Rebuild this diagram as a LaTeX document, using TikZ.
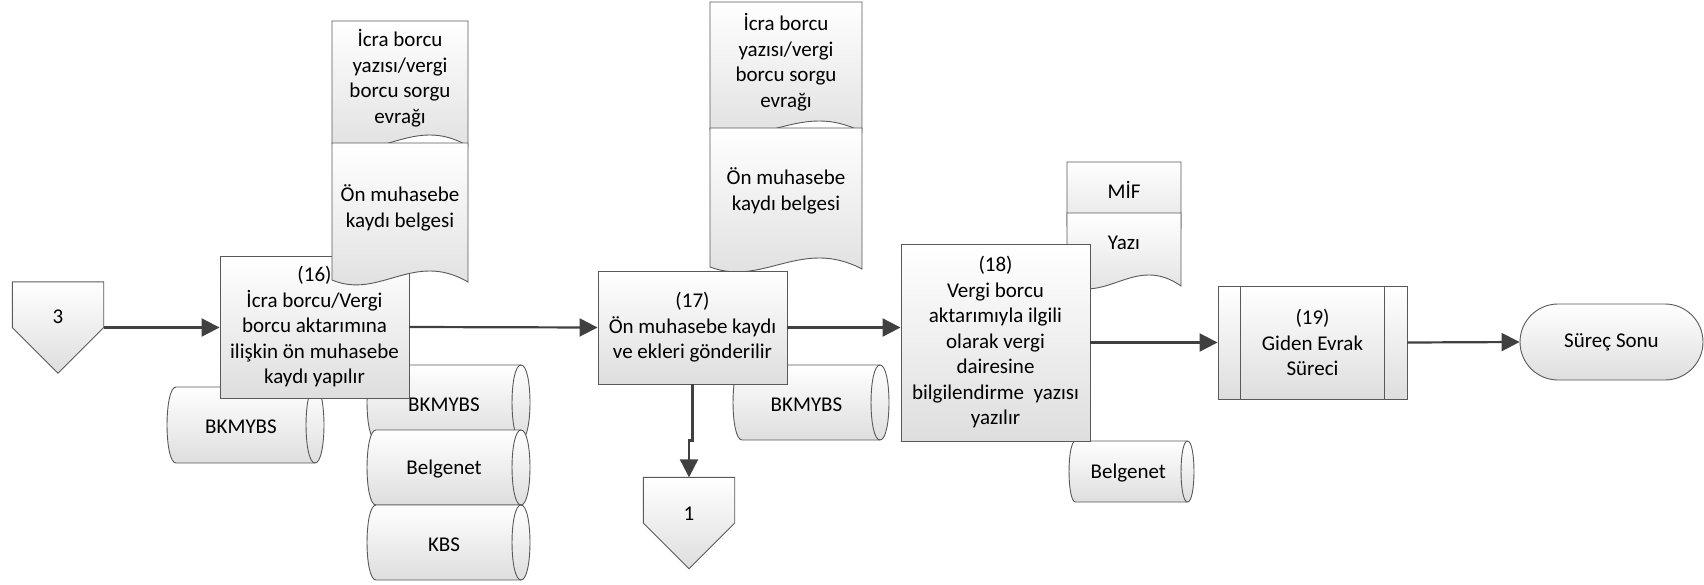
\documentclass[tikz,border=0pt]{standalone}
\usepackage{fontspec}
\setmainfont{Carlito}
\usepackage{tikz}
\usetikzlibrary{positioning,calc,arrows.meta}

% document shape: left, top, right, bottom
\newcommand{\docshape}[4]{%
  \draw[shapeline] (#1,#2) -- (#3,#2) -- (#3,#4+2)
    .. controls ({#1+0.6*(#3-#1)},#4-30) and ({#1+0.35*(#3-#1)},#4+20) .. (#1,#4) -- cycle;}

% horizontal cylinder: name, left, top, right, bottom, end radius, text
\newcommand{\cylbox}[7]{%
  \draw[shapeline] (#2+#6,#3) -- (#4-#6,#3)
    .. controls (#4+0.33*#6,#3) and (#4+0.33*#6,#5) .. (#4-#6,#5)
    -- (#2+#6,#5)
    .. controls (#2-0.33*#6,#5) and (#2-0.33*#6,#3) .. (#2+#6,#3) -- cycle;
  \draw[edgeline] (#4-#6,#3) .. controls (#4-2.33*#6,#3) and (#4-2.33*#6,#5) .. (#4-#6,#5);
  \node[txt] (#1) at ({(#2+#4-#6)/2},{(#3+#5)/2+2}) {#7};}

\begin{document}
\begin{tikzpicture}[
    x=1pt, y=-1pt,
    font=\fontsize{21}{25.5}\selectfont,
    shapeline/.style={draw=black!65, line width=0.9pt, top color=white, bottom color=black!13},
    edgeline/.style={draw=black!65, line width=0.9pt},
    process/.style={shapeline, rectangle, minimum width=189pt, align=center, inner sep=3pt},
    offpage/.style={minimum width=91pt, minimum height=91pt, inner sep=0pt},
    txt/.style={align=center, inner sep=0pt},
    flow/.style={draw=black!75, line width=2.2pt, -{Triangle[length=18pt, width=18pt]}}
]
\useasboundingbox (0,0) rectangle (1704,584);

% Off-page connector 3
\node[offpage] (c3) at (58,327.5) {};
\draw[shapeline] (c3.north west) -- (c3.north east) -- (c3.east) -- (c3.south) -- (c3.west) -- cycle;
\node[txt] (t3) at ([yshift=11pt]c3.center) {3};

% Step 16 with its data stores and documents
\cylbox{dbA}{167}{387}{324}{463}{9}{BKMYBS}
\cylbox{stackA}{367}{365}{530}{440}{9}{BKMYBS}
\cylbox{stackB}{367}{430}{530}{505}{9}{Belgenet}
\cylbox{stackC}{367}{505}{530}{580}{9}{KBS}
\node[process, minimum height=142pt] (b16) at (314.5,327) {(16)\\İcra borcu/Vergi\\borcu aktarımına\\ilişkin ön muhasebe\\kaydı yapılır};
\docshape{332}{21}{468}{144}
\node[txt] (docA) at (400,78) {İcra borcu\\yazısı/vergi\\borcu sorgu\\evrağı};
\docshape{332}{143}{468}{280}
\node[txt] (docB) at (400,208) {Ön muhasebe\\kaydı belgesi};

% Step 17
\cylbox{dbB}{733}{365}{889}{440}{9}{BKMYBS}
\docshape{710}{2}{862}{130}
\node[txt] (docC) at (786,62) {İcra borcu\\yazısı/vergi\\borcu sorgu\\evrağı};
\docshape{710}{128}{862}{267}
\node[txt] (docD) at (786,191) {Ön muhasebe\\kaydı belgesi};
\node[process, minimum height=113pt] (b17) at (692.5,327.5) {(17)\\Ön muhasebe kaydı\\ve ekleri gönderilir};

% Off-page connector 1
\node[offpage] (c1) at (689,523) {};
\draw[shapeline] (c1.north west) -- (c1.north east) -- (c1.east) -- (c1.south) -- (c1.west) -- cycle;
\node[txt] (t1) at ([yshift=9pt]c1.center) {1};

% Step 18
\docshape{1067}{162}{1181}{226}
\node[txt] (docE) at (1124,190) {MİF};
\docshape{1067}{213}{1181}{284}
\node[txt] (docF) at (1124,243) {Yazı};
\cylbox{dbC}{1069}{441}{1194}{502}{6.5}{Belgenet}
\node[process, minimum height=197pt] (b18) at (995.5,342.5) {(18)\\Vergi borcu\\aktarımıyla ilgili\\olarak vergi\\dairesine\\bilgilendirme~ yazısı\\yazılır};

% Step 19 and end
\node[process, minimum height=113pt] (b19) at (1312.5,342.5) {(19)\\Giden Evrak\\Süreci};
\draw[edgeline] ([xshift=23pt]b19.north west) -- ([xshift=23pt]b19.south west);
\draw[edgeline] ([xshift=-23pt]b19.north east) -- ([xshift=-23pt]b19.south east);
\node[shapeline, rounded corners=38pt, minimum width=183pt, minimum height=76pt] (stop) at (1611.5,342) {Süreç Sonu};

% Flow arrows
\draw[flow] (c3.east) -- (c3.east -| b16.west);
\draw[flow] (b16.east) -- (b17.west);
\draw[flow] (b17.south) -- ++(0,56) -| (c1.north);
\draw[flow] (b17.east) -- (b17.east -| b18.west);
\draw[flow] (b18.east) -- (b19.west);
\draw[flow] (b19.east) -- (stop.west);

\end{tikzpicture}
\end{document}
